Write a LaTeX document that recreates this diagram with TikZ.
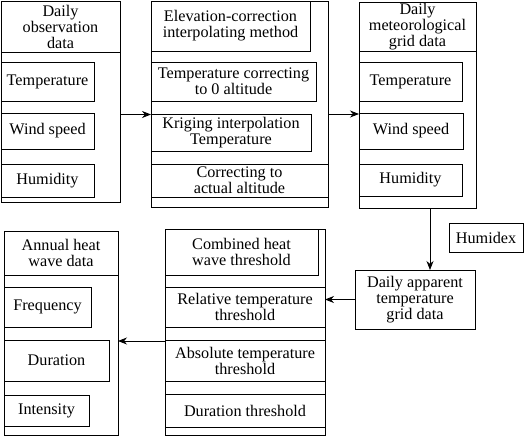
\documentclass[tikz,border=0pt]{standalone}
\usepackage{fontspec}
\setmainfont{Liberation Serif}
\usetikzlibrary{positioning,arrows.meta}

\begin{document}
\begin{tikzpicture}[x=1pt, y=-1pt,
  frame/.style={draw, line width=0.8pt, inner sep=0pt, outer sep=0pt, anchor=north west},
  box/.style={draw, line width=0.8pt, inner sep=0pt, outer sep=0pt, align=center,
              font=\fontsize{16.2}{16}\selectfont, anchor=north west},
  arr/.style={-{Stealth[length=9pt, width=7pt]}, line width=0.8pt}]
\useasboundingbox (0,0) rectangle (524,436);
\node[frame, minimum width=119pt, minimum height=201pt] (obs) at (1,1) {};
\node[box, minimum width=119pt, minimum height=51pt] (obshead) at (obs.north west) {Daily\\ observation\\ data};
\node[box, below=10pt of obshead.south west, anchor=north west, minimum width=93pt, minimum height=39pt] (obstemp) {Temperature};
\node[box, below=12pt of obstemp.south west, anchor=north west, minimum width=93pt, minimum height=36pt] (obswind) {Wind speed};
\node[box, below=15pt of obswind.south west, anchor=north west, minimum width=93pt, minimum height=33pt] (obshum) {Humidity};
\node[frame, minimum width=177pt, minimum height=206pt] (interp) at (151,1) {};
\node[box, minimum width=159pt, minimum height=50pt] (interphead) at (interp.north west) {Elevation-correction\\ interpolating method};
\node[box, below=11pt of interphead.south west, anchor=north west, minimum width=165pt, minimum height=39pt] (zerocorr) {Temperature correcting\\ to 0 altitude};
\node[box, below=13pt of zerocorr.south west, anchor=north west, minimum width=160pt, minimum height=37pt] (kriging) {Kriging interpolation\\ Temperature};
\node[box, below=13pt of kriging.south west, anchor=north west, minimum width=177pt, minimum height=33pt] (actual) {Correcting to\\ actual altitude};
\node[frame, minimum width=117pt, minimum height=206pt] (grid) at (359,2) {};
\node[box, minimum width=117pt, minimum height=49pt] (gridhead) at (grid.north west) {Daily\\ meteorological\\ grid data};
\node[box, below=11pt of gridhead.south west, anchor=north west, minimum width=103pt, minimum height=39pt] (gridtemp) {Temperature};
\node[box, below=12pt of gridtemp.south west, anchor=north west, minimum width=104pt, minimum height=36pt] (gridwind) {Wind speed};
\node[box, below=15pt of gridwind.south west, anchor=north west, minimum width=103pt, minimum height=32pt] (gridhum) {Humidity};
\node[box, minimum width=74pt, minimum height=29pt] (humidex) at (449,223) {Humidex};
\node[box, minimum width=120pt, minimum height=59pt] (app) at (355,270) {Daily apparent\\ temperature\\ grid data};
\node[frame, minimum width=160pt, minimum height=206pt] (thr) at (165,229) {};
\node[box, minimum width=153pt, minimum height=46pt] (thrhead) at (thr.north west) {Combined heat\\ wave threshold};
\node[box, below=12pt of thrhead.south west, anchor=north west, minimum width=160pt, minimum height=40pt] (relthr) {Relative temperature\\ threshold};
\node[box, below=13pt of relthr.south west, anchor=north west, minimum width=160pt, minimum height=41pt] (absthr) {Absolute temperature\\ threshold};
\node[box, below=13pt of absthr.south west, anchor=north west, minimum width=160pt, minimum height=33pt] (durthr) {Duration threshold};
\node[frame, minimum width=114pt, minimum height=204pt] (heat) at (4,231) {};
\node[box, minimum width=114pt, minimum height=44pt] (heathead) at (heat.north west) {Annual heat\\ wave data};
\node[box, below=12pt of heathead.south west, anchor=north west, minimum width=87pt, minimum height=40pt] (freq) {Frequency};
\node[box, below=13pt of freq.south west, anchor=north west, minimum width=105pt, minimum height=41pt] (dur) {Duration};
\node[box, below=14pt of dur.south west, anchor=north west, minimum width=85pt, minimum height=31pt] (intens) {Intensity};
\draw[arr] ([yshift=-13pt]obs.east) -- ([yshift=-13pt]obs.east -| interp.west);
\draw[arr] ([yshift=-10pt]interp.east) -- ([yshift=-10pt]interp.east -| grid.west);
\draw[arr] ([xshift=12.5pt]grid.south) -- ([xshift=12.5pt]grid.south |- app.north);
\draw[arr] (app.west) -- (app.west -| thr.east);
\draw[arr] ([yshift=-9pt]thr.west) -- ([yshift=-9pt]thr.west -| heat.east);
\end{tikzpicture}
\end{document}
